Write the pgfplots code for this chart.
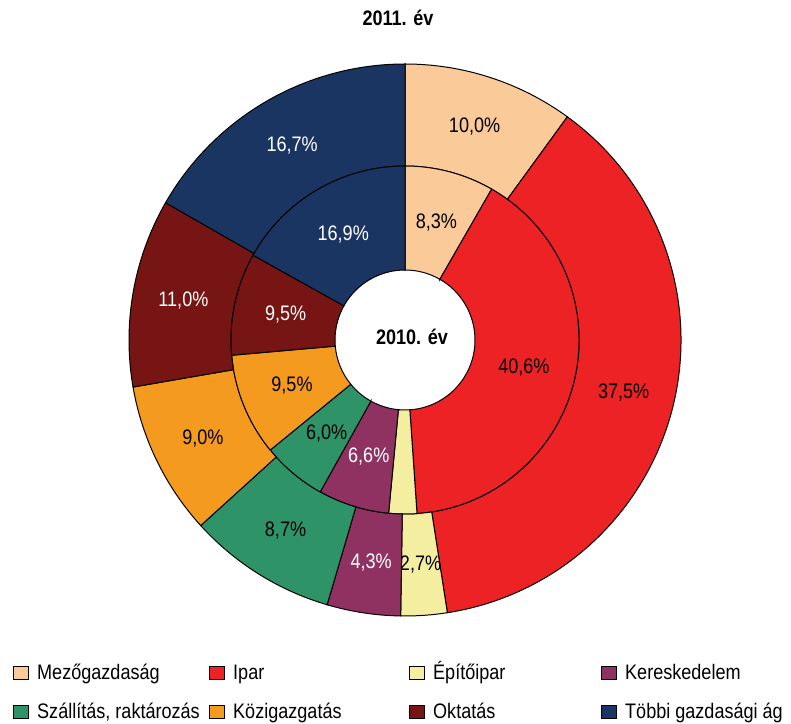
\documentclass[border=0pt]{standalone}
\usepackage{pgfplots}
\usepackage{pgfplotstable}
\pgfplotsset{compat=1.18}
\usepackage{fontspec}
\setmainfont[FakeStretch=0.86]{Liberation Sans}
\definecolor{cMezo}{RGB}{250,202,152}
\definecolor{cIpar}{RGB}{237,34,36}
\definecolor{cEpito}{RGB}{244,239,160}
\definecolor{cKer}{RGB}{143,50,98}
\definecolor{cSzall}{RGB}{46,148,104}
\definecolor{cKoz}{RGB}{243,154,31}
\definecolor{cOkt}{RGB}{119,20,20}
\definecolor{cTobbi}{RGB}{27,53,99}
\pgfplotstableread{
y2010 y2011 col txt show
8.3  10.0 cMezo  black 1
40.6 37.5 cIpar  black 1
2.6  2.7  cEpito black 0
6.6  4.3  cKer   white 1
6.0  8.7  cSzall black 1
9.5  9.0  cKoz   black 1
9.5  11.0 cOkt   white 1
16.9 16.7 cTobbi white 1
}\datatable
\def\Rout{276}
\def\Rmid{174}
\def\Rin{70}
\begin{document}
\fontsize{21bp}{24bp}\selectfont
\begin{tikzpicture}
\begin{axis}[
  x=1bp, y=1bp,
  xmin=-405, xmax=386, ymin=-380, ymax=340,
  hide axis, clip=false,
  /pgf/number format/assume math mode=true,
  legend columns=4,
  legend style={draw=none, fill=none, at={(axis cs:-395,-319)}, anchor=north west,
    nodes={inner sep=0pt, outer sep=0pt, anchor=base west},
    /tikz/every odd column/.append style={column sep=8bp},
    row sep=20bp},
  legend image code/.code={\draw[#1, line width=1bp] (0bp,0bp) rectangle (15bp,13bp);},
]
\path (axis cs:-405,-380) rectangle (axis cs:386,340);
\addlegendimage{fill=cMezo, draw=black}\addlegendentry{\makebox[172bp][l]{Mezőgazdaság}}
\addlegendimage{fill=cIpar, draw=black}\addlegendentry{\makebox[176bp][l]{Ipar}}
\addlegendimage{fill=cEpito, draw=black}\addlegendentry{\makebox[168bp][l]{Építőipar}}
\addlegendimage{fill=cKer, draw=black}\addlegendentry{\makebox[160bp][l]{Kereskedelem}}
\addlegendimage{fill=cSzall, draw=black}\addlegendentry{\makebox[172bp][l]{Szállítás, raktározás}}
\addlegendimage{fill=cKoz, draw=black}\addlegendentry{\makebox[176bp][l]{Közigazgatás}}
\addlegendimage{fill=cOkt, draw=black}\addlegendentry{\makebox[168bp][l]{Oktatás}}
\addlegendimage{fill=cTobbi, draw=black}\addlegendentry{\makebox[160bp][l]{Többi gazdasági ág}}
\pgfplotsextra{
  \pgfplotstablegetrowsof{\datatable}
  \pgfmathtruncatemacro\lastrow{\pgfplotsretval-1}
  \gdef\totA{0}\gdef\totB{0}
  \foreach \i in {0,...,\lastrow}{
    \pgfplotstablegetelem{\i}{y2010}\of\datatable
    \pgfmathsetmacro\t{\totA+\pgfplotsretval}\xdef\totA{\t}
    \pgfplotstablegetelem{\i}{y2011}\of\datatable
    \pgfmathsetmacro\t{\totB+\pgfplotsretval}\xdef\totB{\t}
  }
  \gdef\startA{90}\gdef\startB{90}
  \foreach \i in {0,...,\lastrow}{
    \pgfplotstablegetelem{\i}{col}\of\datatable \edef\fc{\pgfplotsretval}
    \pgfplotstablegetelem{\i}{txt}\of\datatable \edef\tc{\pgfplotsretval}
    \pgfplotstablegetelem{\i}{show}\of\datatable \edef\sh{\pgfplotsretval}
    % outer ring 2011
    \pgfplotstablegetelem{\i}{y2011}\of\datatable \edef\v{\pgfplotsretval}
    \pgfmathsetmacro\endB{\startB-360*\v/\totB}
    \pgfmathsetmacro\midB{(\startB+\endB)/2}
    \filldraw[fill=\fc, draw=black, line width=1bp]
      (axis cs:{\Rmid*cos(\startB)},{\Rmid*sin(\startB)}) --
      (axis cs:{\Rout*cos(\startB)},{\Rout*sin(\startB)})
      arc[start angle=\startB, end angle=\endB, radius=\Rout bp] --
      (axis cs:{\Rmid*cos(\endB)},{\Rmid*sin(\endB)})
      arc[start angle=\endB, end angle=\startB, radius=\Rmid bp] -- cycle;
    \node[text=\tc] at (axis cs:{225*cos(\midB)},{225*sin(\midB)})
      {\pgfmathprintnumber[fixed, fixed zerofill, precision=1, use comma]{\v}\%};
    \xdef\startB{\endB}
    % inner ring 2010
    \pgfplotstablegetelem{\i}{y2010}\of\datatable \edef\w{\pgfplotsretval}
    \pgfmathsetmacro\endA{\startA-360*\w/\totA}
    \pgfmathsetmacro\midA{(\startA+\endA)/2}
    \filldraw[fill=\fc, draw=black, line width=1bp]
      (axis cs:{\Rin*cos(\startA)},{\Rin*sin(\startA)}) --
      (axis cs:{\Rmid*cos(\startA)},{\Rmid*sin(\startA)})
      arc[start angle=\startA, end angle=\endA, radius=\Rmid bp] --
      (axis cs:{\Rin*cos(\endA)},{\Rin*sin(\endA)})
      arc[start angle=\endA, end angle=\startA, radius=\Rin bp] -- cycle;
    \ifnum\sh=1
    \node[text=\tc] at (axis cs:{122*cos(\midA)},{122*sin(\midA)})
      {\pgfmathprintnumber[fixed, fixed zerofill, precision=1, use comma]{\w}\%};
    \fi
    \xdef\startA{\endA}
  }
  \node[font=\bfseries] at (axis cs:-7,322) {2011. év};
  \node[font=\bfseries] at (axis cs:7,3) {2010. év};
}
\end{axis}
\end{tikzpicture}
\end{document}
